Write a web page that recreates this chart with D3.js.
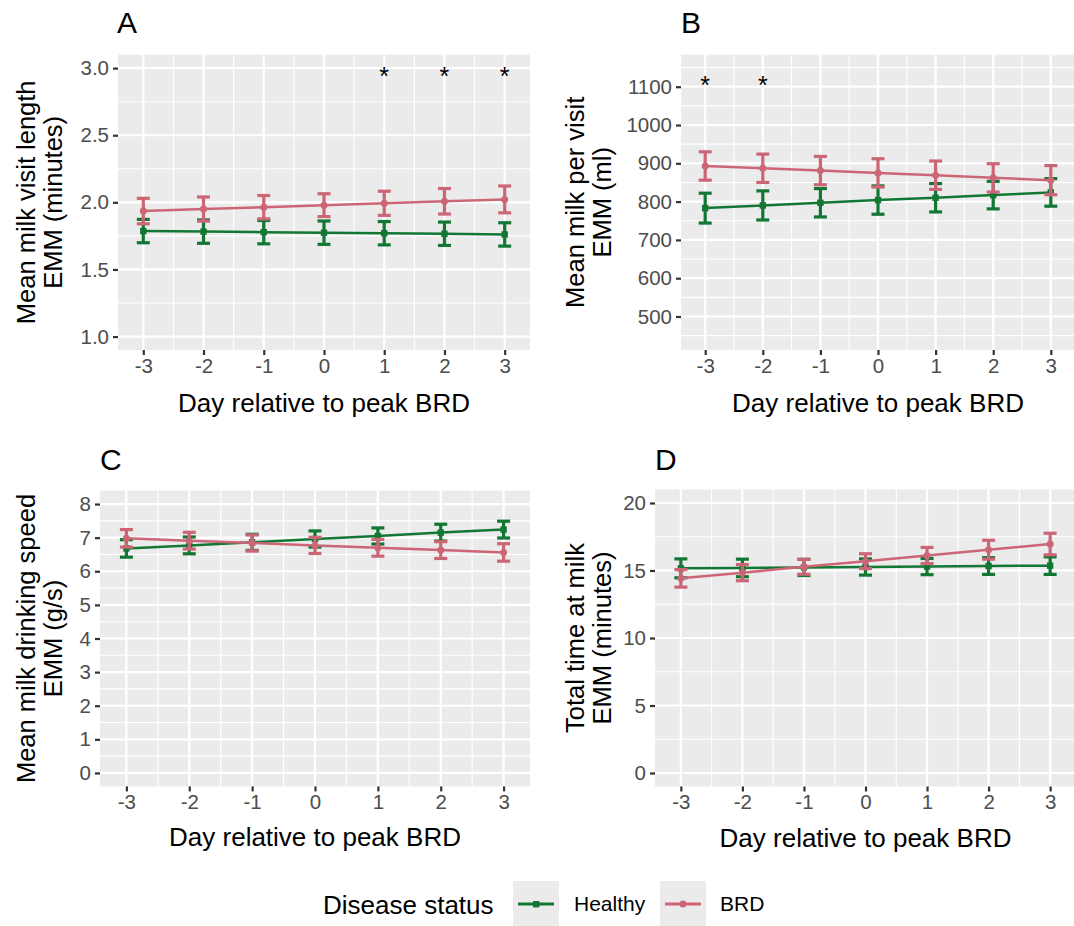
<!DOCTYPE html>
<html><head><meta charset="utf-8">
<script src="https://cdn.jsdelivr.net/npm/d3@7"></script>
<style>body{margin:0;background:#fff}svg{display:block;font-family:"Liberation Sans",Arial,sans-serif}</style>
</head><body>
<svg id="c" width="1074" height="926"></svg>
<script>
const days = [-3,-2,-1,0,1,2,3];
const xTicks = ["-3","-2","-1","0","1","2","3"];
const seriesNames = ["Healthy","BRD"];
const colors = {"Healthy":"#117733","BRD":"#CC6677"};

// Panel A: visit length (minutes)
const aHealthy = [1.786,1.782,1.778,1.774,1.770,1.766,1.761];
const aHealthyErr = [0.087,0.087,0.087,0.087,0.087,0.087,0.087];
const aBRD = [1.935,1.950,1.964,1.979,1.993,2.008,2.022];
const aBRDErr = [0.095,0.09,0.087,0.085,0.09,0.095,0.10];
const aTicks = [1.0,1.5,2.0,2.5,3.0];
const aStars = [1,2,3];

// Panel B: milk per visit (ml)
const bHealthy = [783,790,797,804,810,817,824];
const bHealthyErr = [39,38,37,37,37,36,36];
const bBRD = [893,887,881,875,869,862,856];
const bBRDErr = [37,37,37,37,37,37,38];
const bTicks = [500,600,700,800,900,1000,1100];
const bStars = [-3,-2];

// Panel C: drinking speed (g/s)
const cHealthy = [6.68,6.77,6.86,6.96,7.05,7.15,7.24];
const cHealthyErr = [0.26,0.25,0.24,0.24,0.24,0.25,0.25];
const cBRD = [6.98,6.91,6.84,6.77,6.70,6.63,6.56];
const cBRDErr = [0.26,0.25,0.24,0.24,0.25,0.25,0.26];
const cTicks = [0,1,2,3,4,5,6,7,8];

// Panel D: total time (minutes)
const dHealthy = [15.16,15.19,15.23,15.26,15.29,15.33,15.36];
const dHealthyErr = [0.7,0.65,0.6,0.6,0.6,0.62,0.65];
const dBRD = [14.42,14.84,15.27,15.69,16.11,16.54,16.96];
const dBRDErr = [0.65,0.6,0.55,0.55,0.6,0.7,0.8];
const dTicks = [0,5,10,15,20];

const svg = d3.select("#c");

function panel(o){
  const g = svg.append("g");
  const x = d3.scaleLinear().domain([-3.42,3.42]).range([o.l,o.r]);
  const y = d3.scaleLinear().domain(o.yd).range([o.b,o.t]);
  g.append("rect").attr("x",o.l).attr("y",o.t).attr("width",o.r-o.l).attr("height",o.b-o.t).attr("fill","#ebebeb");
  const step = o.ticks[1]-o.ticks[0];
  const yMinor = [];
  for(let v=o.ticks[0]-step/2; v<=o.yd[1]; v+=step){ if(v>=o.yd[0]) yMinor.push(v); }
  g.selectAll(".ym").data(yMinor).join("line").attr("x1",o.l).attr("x2",o.r)
    .attr("y1",d=>y(d)).attr("y2",d=>y(d)).attr("stroke","#fff").attr("stroke-width",1.1);
  const xMinor = [-2.5,-1.5,-0.5,0.5,1.5,2.5];
  g.selectAll(".xm").data(xMinor).join("line").attr("y1",o.t).attr("y2",o.b)
    .attr("x1",d=>x(d)).attr("x2",d=>x(d)).attr("stroke","#fff").attr("stroke-width",1.1);
  g.selectAll(".yM").data(o.ticks).join("line").attr("x1",o.l).attr("x2",o.r)
    .attr("y1",d=>y(d)).attr("y2",d=>y(d)).attr("stroke","#fff").attr("stroke-width",2.2);
  g.selectAll(".xM").data(days).join("line").attr("y1",o.t).attr("y2",o.b)
    .attr("x1",d=>x(d)).attr("x2",d=>x(d)).attr("stroke","#fff").attr("stroke-width",2.2);
  const ya = g.append("g").attr("transform",`translate(${o.l},0)`)
    .call(d3.axisLeft(y).tickValues(o.ticks).tickFormat(o.fmt).tickSize(5).tickPadding(4));
  const xa = g.append("g").attr("transform",`translate(0,${o.b})`)
    .call(d3.axisBottom(x).tickValues(days).tickFormat((d,i)=>xTicks[i]).tickSize(5).tickPadding(3));
  [ya,xa].forEach(a=>{
    a.select(".domain").remove();
    a.selectAll(".tick line").attr("stroke","#333").attr("stroke-width",2.2);
    a.selectAll(".tick text").attr("fill","#4d4d4d").attr("font-size",20.5).attr("font-family","Liberation Sans, Arial, sans-serif");
  });
  const sets = [{n:"Healthy",v:o.h,e:o.he},{n:"BRD",v:o.br,e:o.be}];
  sets.forEach(s=>{
    const c = colors[s.n];
    const line = d3.line().x((d,i)=>x(days[i])).y(d=>y(d));
    g.append("path").attr("d",line(s.v)).attr("fill","none").attr("stroke",c).attr("stroke-width",2.5);
    const eb = g.append("g").attr("stroke",c).attr("stroke-width",3.2).attr("fill","none");
    s.v.forEach((v,i)=>{
      const cx = x(days[i]), lo=y(v-s.e[i]), hi=y(v+s.e[i]);
      eb.append("line").attr("x1",cx).attr("x2",cx).attr("y1",lo).attr("y2",hi);
      eb.append("line").attr("x1",cx-6.5).attr("x2",cx+6.5).attr("y1",lo).attr("y2",lo);
      eb.append("line").attr("x1",cx-6.5).attr("x2",cx+6.5).attr("y1",hi).attr("y2",hi);
    });
    if(s.n==="Healthy"){
      g.selectAll(null).data(s.v).join("rect").attr("x",(d,i)=>x(days[i])-3.2).attr("y",d=>y(d)-3.2)
        .attr("width",6.4).attr("height",6.4).attr("fill",c);
    } else {
      g.selectAll(null).data(s.v).join("circle").attr("cx",(d,i)=>x(days[i])).attr("cy",d=>y(d))
        .attr("r",3.5).attr("fill",c);
    }
  });
  g.selectAll(".star").data(o.stars).join("text").attr("x",d=>x(d)).attr("y",y(o.starY)+10)
    .attr("text-anchor","middle").attr("font-size",25).attr("fill","#000").text("*");
  g.append("text").attr("x",(o.l+o.r)/2).attr("y",o.b+o.xtOff).attr("text-anchor","middle")
    .attr("font-size",26).attr("fill","#000").text("Day relative to peak BRD");
  const cy = (o.t+o.b)/2;
  g.append("text").attr("transform",`translate(${o.yt},${cy}) rotate(-90)`).attr("text-anchor","middle")
    .attr("font-size",25.5).attr("fill","#000")
    .selectAll("tspan").data(o.ytitle).join("tspan").attr("x",0).attr("dy",(d,i)=>i===0?0:27).text(d=>d);
  g.append("text").attr("x",o.tagx).attr("y",o.tagy).attr("font-size",30).attr("fill","#000").text(o.tag);
}

panel({l:118,r:530,t:54.7,b:350,yd:[0.9,3.1],ticks:aTicks,fmt:d3.format(".1f"),h:aHealthy,he:aHealthyErr,br:aBRD,be:aBRDErr,
  stars:aStars,starY:2.95,ytitle:["Mean milk visit length","EMM (minutes)"],yt:35,tag:"A",tagx:117,tagy:33,xtOff:62});
panel({l:681,r:1075,t:54.7,b:350,yd:[412.5,1183.6],ticks:bTicks,fmt:d3.format("d"),h:bHealthy,he:bHealthyErr,br:bBRD,be:bBRDErr,
  stars:bStars,starY:1108,ytitle:["Mean milk per visit","EMM (ml)"],yt:584,tag:"B",tagx:681,tagy:33,xtOff:62});
panel({l:100,r:530,t:490.6,b:786.4,yd:[-0.4,8.4],ticks:cTicks,fmt:d3.format("d"),h:cHealthy,he:cHealthyErr,br:cBRD,be:cBRDErr,
  stars:[],starY:0,ytitle:["Mean milk drinking speed","EMM (g/s)"],yt:35,tag:"C",tagx:100,tagy:470,xtOff:60});
panel({l:655,r:1076,t:489.5,b:786.5,yd:[-1,21],ticks:dTicks,fmt:d3.format("d"),h:dHealthy,he:dHealthyErr,br:dBRD,be:dBRDErr,
  stars:[],starY:0,ytitle:["Total time at milk","EMM (minutes)"],yt:584,tag:"D",tagx:655,tagy:470,xtOff:60});

const lg = svg.append("g");
lg.append("text").attr("x",323).attr("y",914).attr("font-size",26).attr("fill","#000").text("Disease status");
const keyX = [513,660], txtX = [574,720];
seriesNames.forEach((n,i)=>{
  lg.append("rect").attr("x",keyX[i]).attr("y",881).attr("width",46).attr("height",46).attr("fill","#ebebeb");
  lg.append("line").attr("x1",keyX[i]+5).attr("x2",keyX[i]+41).attr("y1",904).attr("y2",904).attr("stroke",colors[n]).attr("stroke-width",3.2);
  if(n==="Healthy") lg.append("rect").attr("x",keyX[i]+20).attr("y",901).attr("width",6.4).attr("height",6.4).attr("fill",colors[n]);
  else lg.append("circle").attr("cx",keyX[i]+23).attr("cy",904).attr("r",3.5).attr("fill",colors[n]);
  lg.append("text").attr("x",txtX[i]).attr("y",911).attr("font-size",21).attr("fill","#000").text(n);
});
</script>
</body></html>
